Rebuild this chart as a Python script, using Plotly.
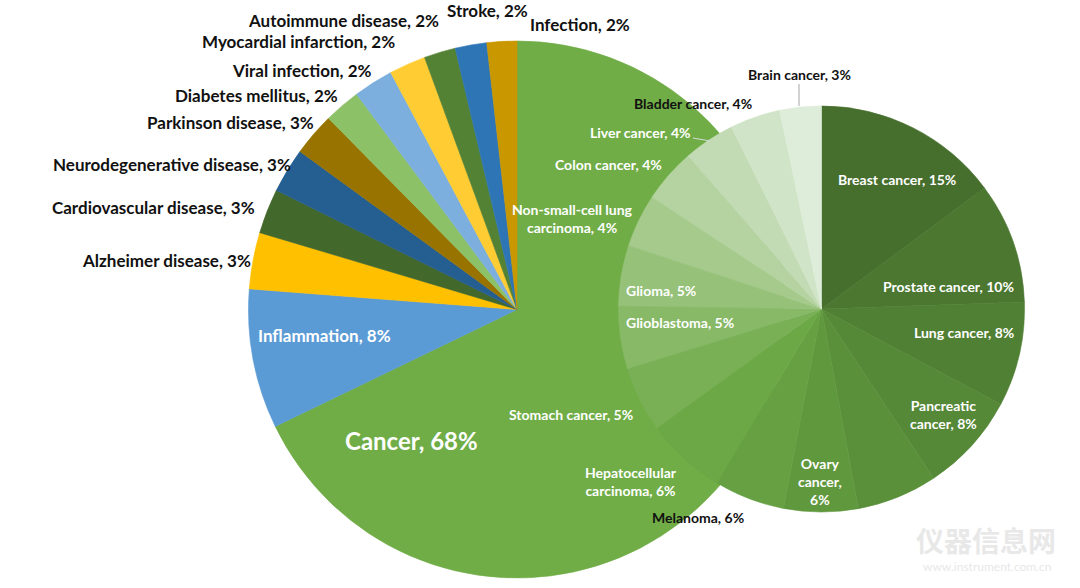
import plotly.graph_objects as go

# Disease areas (outer pie), clockwise from 12 o'clock
disease_names = ['Cancer', 'Inflammation', 'Alzheimer disease', 'Cardiovascular disease',
                 'Neurodegenerative disease', 'Parkinson disease', 'Diabetes mellitus',
                 'Viral infection', 'Myocardial infarction', 'Autoimmune disease',
                 'Stroke', 'Infection']
disease_values = [67.9, 8.4, 3.4, 2.7, 2.7, 2.6, 2.2, 2.4, 2.2, 1.9, 1.9, 1.8]
disease_colors = ['#70AD47', '#5B9BD5', '#FFC000', '#43682B', '#255E91', '#997300',
                  '#8CC168', '#7CAFDD', '#FFCD33', '#548235', '#2E75B6', '#C99700']

# Cancer types (second pie), clockwise from 12 o'clock
cancer_names = ['Breast cancer', 'Prostate cancer', 'Lung cancer', 'Pancreatic cancer',
                'Other cancer', 'Ovary cancer', 'Melanoma', 'Hepatocellular carcinoma',
                'Stomach cancer', 'Glioblastoma', 'Glioma',
                'Non-small-cell lung carcinoma', 'Colon cancer', 'Liver cancer',
                'Bladder cancer', 'Brain cancer']
cancer_values = [14.8, 9.6, 8.3, 7.9, 6.4, 5.9, 5.6, 6.4, 5.2, 5.0, 4.8, 4.2, 4.3, 4.1, 4.0, 3.3]
cancer_colors = ['#466E2D', '#4B7731', '#508034', '#558837', '#5A903A', '#60983E',
                 '#66A042', '#6CA845', '#79B056', '#87B967', '#96C179', '#A5CA8C',
                 '#B4D3A1', '#C2DBB4', '#D0E4C7', '#DEEDD9']

W, H = 1080, 588


def px(x, y):
    return x / W, 1 - y / H


fig = go.Figure()

fig.add_trace(go.Pie(
    labels=disease_names, values=disease_values, sort=False,
    direction='clockwise', rotation=0, textinfo='none',
    marker=dict(colors=disease_colors, line=dict(color=disease_colors, width=0.6)),
    domain=dict(x=[248.5 / W, 785.5 / W], y=[10 / H, 547 / H]),
    showlegend=False
))

fig.add_trace(go.Pie(
    labels=cancer_names, values=cancer_values, sort=False,
    direction='clockwise', rotation=0, textinfo='none',
    marker=dict(colors=cancer_colors, line=dict(color=cancer_colors, width=0.6)),
    domain=dict(x=[618.5 / W, 1024.5 / W], y=[76 / H, 482 / H]),
    showlegend=False
))


def pct_text(names, values, name, shown=None):
    total = sum(values)
    v = values[names.index(name)]
    return f"{shown or name}, {round(v / total * 100)}%"


BLACK = '#111111'
WHITE = '#FFFFFF'

# label placement: name -> (x px, y px, colour, size, shown name)
disease_label_pos = {
    'Autoimmune disease': (343, 20, BLACK, 17, None),
    'Stroke': (487, 11, BLACK, 17, None),
    'Infection': (580, 25, BLACK, 17, None),
    'Myocardial infarction': (298, 42, BLACK, 17, None),
    'Viral infection': (301, 70, BLACK, 17, None),
    'Diabetes mellitus': (256, 96, BLACK, 17, None),
    'Parkinson disease': (230, 123, BLACK, 17, None),
    'Neurodegenerative disease': (172, 164, BLACK, 17, None),
    'Cardiovascular disease': (153, 208, BLACK, 17, None),
    'Alzheimer disease': (166, 260, BLACK, 17, None),
    'Inflammation': (324, 335, WHITE, 17, None),
    'Cancer': (411, 440, WHITE, 24, None),
}

cancer_label_pos = {
    'Breast cancer': (897, 179, WHITE, 14, None),
    'Prostate cancer': (948, 286, WHITE, 14, None),
    'Lung cancer': (964, 332, WHITE, 14, None),
    'Pancreatic cancer': (943, 415, WHITE, 14, 'Pancreatic<br>cancer'),
    'Ovary cancer': (820, 481, WHITE, 14, 'Ovary<br>cancer,<br>'),
    'Melanoma': (698, 517, BLACK, 14, None),
    'Hepatocellular carcinoma': (631, 481, WHITE, 14, 'Hepatocellular<br>carcinoma'),
    'Stomach cancer': (571, 415, WHITE, 14, None),
    'Glioblastoma': (680, 322, WHITE, 14, None),
    'Glioma': (661, 290, WHITE, 14, None),
    'Non-small-cell lung carcinoma': (572, 218, WHITE, 14, 'Non-small-cell lung<br>carcinoma'),
    'Colon cancer': (608, 164, WHITE, 14, None),
    'Liver cancer': (640, 133, WHITE, 14, None),
    'Bladder cancer': (693, 104, BLACK, 14, None),
    'Brain cancer': (799, 75, BLACK, 14, None),
}

annotations = []
for names, values, pos in [(disease_names, disease_values, disease_label_pos),
                           (cancer_names, cancer_values, cancer_label_pos)]:
    for name, (x, y, color, size, shown) in pos.items():
        text = pct_text(names, values, name, shown)
        if shown and shown.endswith('<br>'):
            text = text.replace('<br>, ', '<br>')
        ax, ay = px(x, y)
        annotations.append(dict(
            x=ax, y=ay, xref='paper', yref='paper', text=text, showarrow=False,
            xanchor='center', yanchor='middle', align='center',
            font=dict(family='Lato, Open Sans, sans-serif', size=size, color=color, weight='bold')
        ))

# watermark
wx, wy = px(986, 540)
annotations.append(dict(x=wx, y=wy, xref='paper', yref='paper', text='仪器信息网',
                        showarrow=False, xanchor='center', yanchor='middle',
                        font=dict(family='Noto Sans CJK SC', size=28, color='#E8E8E8', weight='bold')))
wx, wy = px(987, 566)
annotations.append(dict(x=wx, y=wy, xref='paper', yref='paper', text='www.instrument.com.cn',
                        showarrow=False, xanchor='center', yanchor='middle',
                        font=dict(family='Lato, sans-serif', size=12, color='#E8E8E8')))

# leader lines
shapes = []
for (x0, y0, x1, y1, c) in [(799, 84, 799, 106, '#A6A6A6'), (693, 138, 710, 141, '#D9D9D9')]:
    a0, b0 = px(x0, y0)
    a1, b1 = px(x1, y1)
    shapes.append(dict(type='line', xref='paper', yref='paper', x0=a0, y0=b0, x1=a1, y1=b1,
                       line=dict(color=c, width=1)))

fig.update_layout(
    width=W, height=H,
    margin=dict(l=0, r=0, t=0, b=0),
    paper_bgcolor='white', plot_bgcolor='white',
    annotations=annotations, shapes=shapes,
)

fig.write_html("out.html", config={'displayModeBar': False},
               post_script="document.body.style.margin='0';")
